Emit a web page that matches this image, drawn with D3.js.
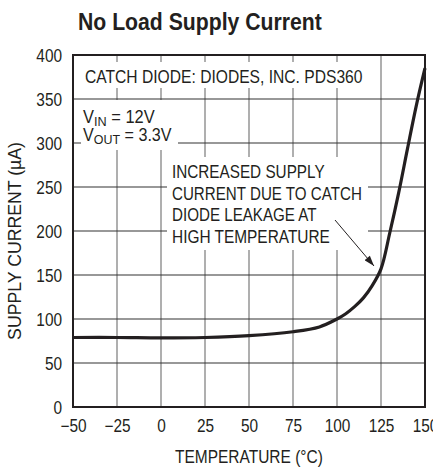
<!DOCTYPE html>
<html><head><meta charset="utf-8">
<script src="https://cdn.jsdelivr.net/npm/d3@7"></script>
<style>
html,body{margin:0;padding:0;background:#fff;}
text{font-family:"Liberation Sans",Arial,sans-serif;fill:#231f20;}
</style></head><body>
<svg id="c" width="433" height="470"></svg>
<script>
const temps = [-50,-25,0,25,50,75,90,100,105,110,115,120,125,130,135,140,145,150];
const current = [79,79,78.5,79,81,85.5,91,100,106,114,124,138,157,198,243,293,342,385];
const xTicks = [-50,-25,0,25,50,75,100,125,150];
const yTicks = [0,50,100,150,200,250,300,350,400];
const title = "No Load Supply Current";
const xTitle = "TEMPERATURE (°C)";
const yTitle = "SUPPLY CURRENT (µA)";
const noteLines = ["INCREASED SUPPLY","CURRENT DUE TO CATCH","DIODE LEAKAGE AT","HIGH TEMPERATURE"];
const noteWidths = [153,190,145,158];

const svg = d3.select("#c");
const L=73,R=425,T=55,B=407;
const x = d3.scaleLinear().domain([-50,150]).range([L,R]);
const y = d3.scaleLinear().domain([0,400]).range([B,T]);

function squeeze(sel, w, ax){
  sel.each(function(){
    const bw = this.getBBox().width;
    const s = w/bw;
    d3.select(this).attr("transform", `translate(${ax},0) scale(${s},1) translate(${-ax},0)`);
  });
}
function scaleBy(sel, s){
  sel.each(function(){
    const bb = this.getBBox();
    const cx = bb.x + bb.width/2;
    d3.select(this).attr("transform", `translate(${cx},0) scale(${s},1) translate(${-cx},0)`);
  });
}

// grid
svg.append("g").selectAll("line").data(xTicks).join("line")
  .attr("x1",d=>x(d)).attr("x2",d=>x(d)).attr("y1",T).attr("y2",B)
  .attr("stroke","#7a7a7a").attr("stroke-width",1.2);
svg.append("g").selectAll("line").data(yTicks).join("line")
  .attr("y1",d=>y(d)).attr("y2",d=>y(d)).attr("x1",L).attr("x2",R)
  .attr("stroke","#333").attr("stroke-width",1.1);

// white knockout boxes
const boxes = [[73,62,370,88],[81,100,178,150],[167,157,368,250]];
svg.append("g").selectAll("rect").data(boxes).join("rect")
  .attr("x",d=>d[0]).attr("y",d=>d[1]).attr("width",d=>d[2]-d[0]).attr("height",d=>d[3]-d[1])
  .attr("fill","#fff");

// frame
svg.append("rect").attr("x",L).attr("y",T).attr("width",R-L).attr("height",B-T)
  .attr("fill","none").attr("stroke","#231f20").attr("stroke-width",2);

// curve
const line = d3.line().x((d,i)=>x(temps[i])).y(d=>y(d)).curve(d3.curveCatmullRom.alpha(0.5));
svg.append("path").datum(current).attr("d",line).attr("fill","none")
  .attr("stroke","#231f20").attr("stroke-width",3.2).attr("stroke-linejoin","round");

// axes labels
const fmt = d=> d<0 ? "\u2212"+Math.abs(d) : String(d);
const xAxis = d3.axisBottom(x).tickValues(xTicks).tickFormat(fmt).tickSize(0).tickPadding(0);
const gx = svg.append("g").attr("transform",`translate(0,${B})`).call(xAxis);
gx.select(".domain").remove();
gx.selectAll("text").attr("dy",null).attr("y",25).attr("font-size",17.5)
  .attr("font-family","Liberation Sans, Arial, sans-serif").attr("fill","#231f20");
scaleBy(gx.selectAll("text"),0.88);
const yAxis = d3.axisLeft(y).tickValues(yTicks).tickSize(0).tickPadding(0);
const gy = svg.append("g").attr("transform",`translate(${L},0)`).call(yAxis);
gy.select(".domain").remove();
gy.selectAll("text").attr("x",-11).attr("dy","0.35em").attr("font-size",17.5)
  .attr("font-family","Liberation Sans, Arial, sans-serif").attr("fill","#231f20")
  .attr("transform","translate(-11,0) scale(0.88,1) translate(11,0)");

const xt = svg.append("text").attr("x",175).attr("y",463).attr("font-size",17.5).text(xTitle);
squeeze(xt,148,175);
const yt = svg.append("text").attr("transform","translate(21,241) rotate(-90)").attr("text-anchor","middle")
  .attr("font-size",17.5).text(yTitle);
yt.each(function(){
  const bw = this.getBBox().width;
  d3.select(this).attr("transform",`translate(21,241) rotate(-90) scale(${198/bw},1)`);
});
const tt = svg.append("text").attr("x",78).attr("y",30).attr("font-size",24).attr("font-weight","bold")
  .text(title);
squeeze(tt,244,78);

// annotations
const cd = svg.append("text").attr("x",85).attr("y",83).attr("font-size",17.5).text("CATCH DIODE: DIODES, INC. PDS360");
squeeze(cd,278,85);
const t1 = svg.append("text").attr("x",83).attr("y",123).attr("font-size",17.5);
t1.append("tspan").text("V");
t1.append("tspan").attr("font-size",13.5).attr("dy",3.5).text("IN");
t1.append("tspan").attr("dy",-3.5).text(" = 12V");
squeeze(t1,72,83);
const t2 = svg.append("text").attr("x",83).attr("y",141).attr("font-size",17.5);
t2.append("tspan").text("V");
t2.append("tspan").attr("font-size",13.5).attr("dy",3.5).text("OUT");
t2.append("tspan").attr("dy",-3.5).text(" = 3.3V");
squeeze(t2,89,83);
svg.append("g").selectAll("text").data(noteLines).join("text")
  .attr("x",172).attr("y",(d,i)=>178+i*21.7).attr("font-size",17.5).text(d=>d)
  .each(function(d,i){ squeeze(d3.select(this),noteWidths[i],172); });

// arrow
svg.append("defs").append("marker").attr("id","ah").attr("viewBox","0 0 12 8")
  .attr("refX",12).attr("refY",4).attr("markerWidth",12).attr("markerHeight",7)
  .attr("markerUnits","userSpaceOnUse").attr("orient","auto")
  .append("path").attr("d","M0,0L12,4L0,8Z").attr("fill","#231f20");
svg.append("line").attr("x1",335).attr("y1",220).attr("x2",374).attr("y2",266)
  .attr("stroke","#231f20").attr("stroke-width",1).attr("marker-end","url(#ah)");
</script>
</body></html>
